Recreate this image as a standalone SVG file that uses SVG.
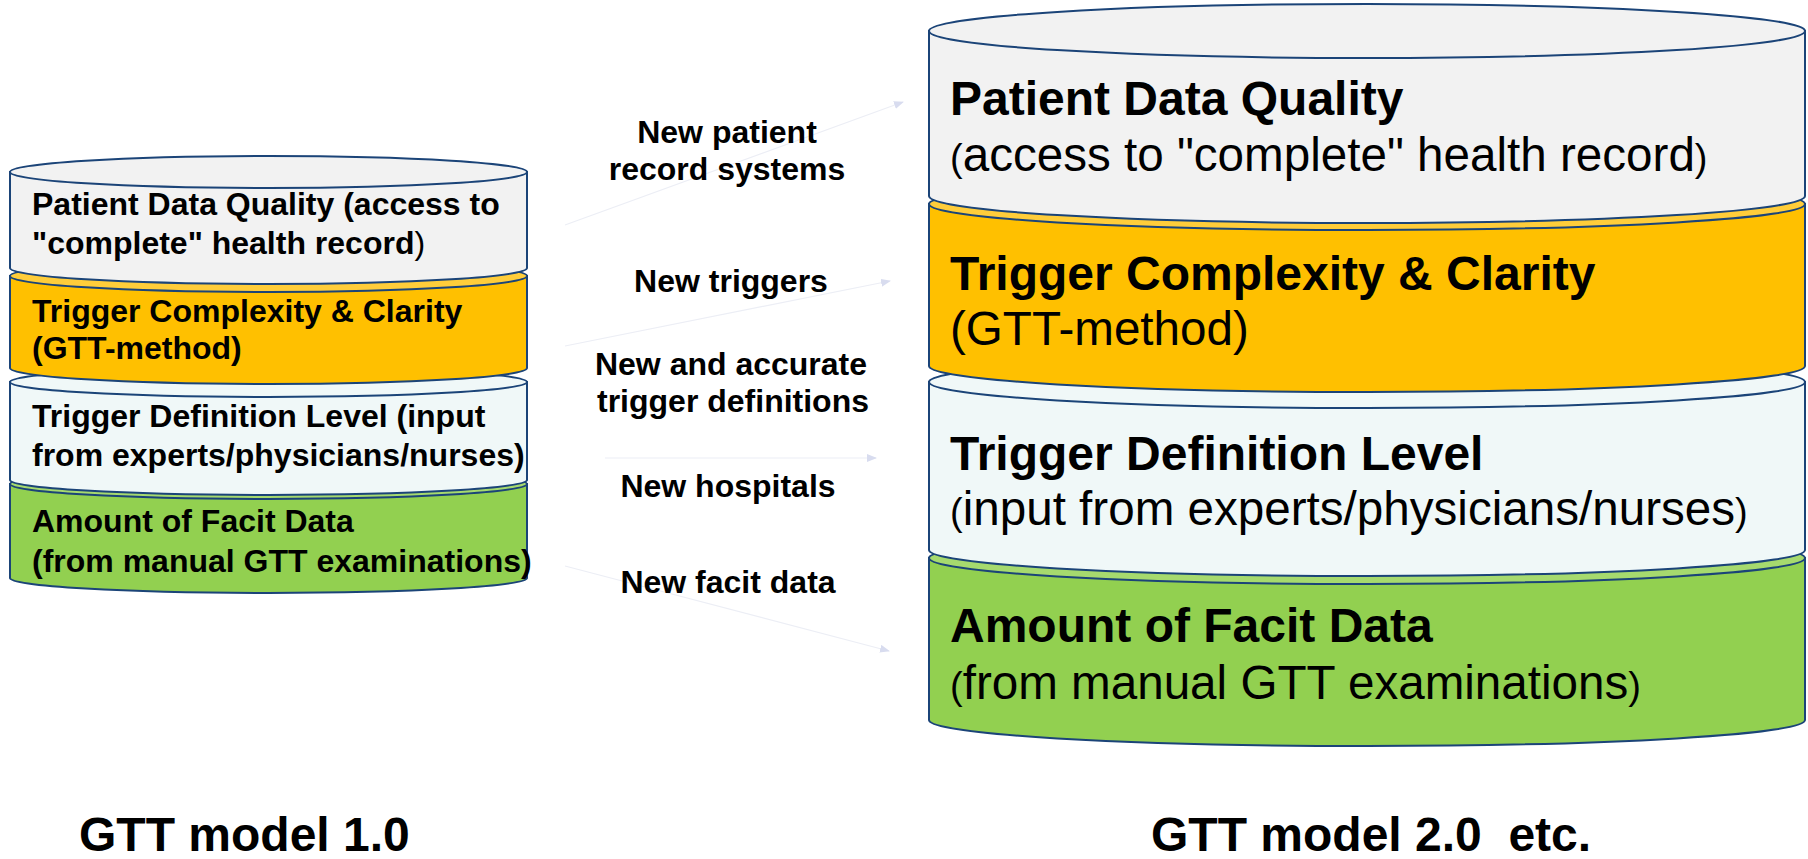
<svg xmlns="http://www.w3.org/2000/svg" width="1808" height="859" viewBox="0 0 1808 859">
<defs>
<style>
.bg{fill:#ffffff}
.cyl{stroke:#1b4478;stroke-width:2}
.w{fill:#f2f2f2}
.y{fill:#ffc000}
.yt{fill:#ffcd3a}
.c{fill:#f0f8f8}
.g{fill:#92d050}
.gt{fill:#a6da6e}
.ts{font-family:"Liberation Sans",Arial,sans-serif;font-size:32px;font-weight:bold;fill:#000}
.tb{font-family:"Liberation Sans",Arial,sans-serif;font-size:48px;font-weight:bold;fill:#000}
.tr{font-family:"Liberation Sans",Arial,sans-serif;font-size:47.6px;font-weight:normal;fill:#000}
.p{font-size:38px;font-weight:normal}
.ps{font-weight:normal}
.lbl{font-family:"Liberation Sans",Arial,sans-serif;font-size:32px;font-weight:bold;fill:#000;text-anchor:middle}
.title{font-family:"Liberation Sans",Arial,sans-serif;font-size:48px;font-weight:bold;fill:#000;white-space:pre}
.conn{stroke:#eceef5;stroke-width:1.2;fill:none}
</style>
<marker id="ah" markerWidth="10" markerHeight="8" refX="9" refY="4" orient="auto" markerUnits="userSpaceOnUse">
<path d="M0,0 L10,4 L0,8 Z" fill="#d8dcef"/>
</marker>
</defs>
<rect class="bg" x="0" y="0" width="1808" height="859"/>

<!-- Left stack (GTT model 1.0) -->
<g id="left-facit">
<path class="cyl g" d="M10,484 L10,578 A258.5,15 0 0 0 527,578 L527,484 Z"/>
<ellipse class="cyl gt" cx="268.5" cy="484" rx="258.5" ry="15"/>
<text class="ts" x="32" y="532">Amount of Facit Data</text>
<text class="ts" x="32" y="572">(from manual GTT examinations)</text>
</g>
<g id="left-definition">
<path class="cyl c" d="M10,382 L10,480 A258.5,15 0 0 0 527,480 L527,382 Z"/>
<ellipse class="cyl c" cx="268.5" cy="382" rx="258.5" ry="15"/>
<text class="ts" x="32" y="427">Trigger Definition Level (input</text>
<text class="ts" x="32" y="466">from experts/physicians/nurses)</text>
</g>
<g id="left-complexity">
<path class="cyl y" d="M10,276 L10,368 A258.5,16 0 0 0 527,368 L527,276 Z"/>
<ellipse class="cyl yt" cx="268.5" cy="276" rx="258.5" ry="16"/>
<text class="ts" x="32" y="322">Trigger Complexity &amp; Clarity</text>
<text class="ts" x="32" y="359">(GTT-method)</text>
</g>
<g id="left-quality">
<path class="cyl w" d="M10,172 L10,268 A258.5,16 0 0 0 527,268 L527,172 Z"/>
<ellipse class="cyl w" cx="268.5" cy="172" rx="258.5" ry="16"/>
<text class="ts" x="32" y="215">Patient Data Quality (access to</text>
<text class="ts" x="32" y="254">"complete" health record<tspan class="ps">)</tspan></text>
</g>

<!-- Right stack (GTT model 2.0) -->
<g id="right-facit">
<path class="cyl g" d="M929,558 L929,720 A438,26 0 0 0 1805,720 L1805,558 Z"/>
<ellipse class="cyl gt" cx="1367" cy="558" rx="438" ry="26"/>
<text class="tb" x="950" y="642">Amount of Facit Data</text>
<text class="tr" x="950" y="699"><tspan class="p">(</tspan>from manual GTT examinations<tspan class="p">)</tspan></text>
</g>
<g id="right-definition">
<path class="cyl c" d="M929,382 L929,550 A438,26 0 0 0 1805,550 L1805,382 Z"/>
<ellipse class="cyl c" cx="1367" cy="382" rx="438" ry="26"/>
<text class="tb" x="950" y="470">Trigger Definition Level</text>
<text class="tr" x="950" y="525"><tspan class="p">(</tspan>input from experts/physicians/nurses<tspan class="p">)</tspan></text>
</g>
<g id="right-complexity">
<path class="cyl y" d="M929,204 L929,366 A438,26 0 0 0 1805,366 L1805,204 Z"/>
<ellipse class="cyl yt" cx="1367" cy="204" rx="438" ry="26"/>
<text class="tb" x="950" y="290">Trigger Complexity &amp; Clarity</text>
<text class="tr" x="950" y="345">(GTT-method)</text>
</g>
<g id="right-quality">
<path class="cyl w" d="M929,31 L929,196 A438,27 0 0 0 1805,196 L1805,31 Z"/>
<ellipse class="cyl w" cx="1367" cy="31" rx="438" ry="27"/>
<text class="tb" x="950" y="115">Patient Data Quality</text>
<text class="tr" x="950" y="171"><tspan class="p">(</tspan>access to "complete" health record<tspan class="p">)</tspan></text>
</g>

<!-- Connectors -->
<g id="connectors">
<line class="conn" x1="565" y1="225" x2="903" y2="102" marker-end="url(#ah)"/>
<line class="conn" x1="565" y1="346" x2="890" y2="281" marker-end="url(#ah)"/>
<line class="conn" x1="605" y1="458" x2="876" y2="458" marker-end="url(#ah)"/>
<line class="conn" x1="565" y1="566" x2="889" y2="651" marker-end="url(#ah)"/>
</g>

<!-- Connector labels -->
<g id="labels">
<text class="lbl" x="727" y="143">New patient</text>
<text class="lbl" x="727" y="180">record systems</text>
<text class="lbl" x="731" y="292">New triggers</text>
<text class="lbl" x="731" y="375">New and accurate</text>
<text class="lbl" x="733" y="412">trigger definitions</text>
<text class="lbl" x="728" y="497">New hospitals</text>
<text class="lbl" x="728" y="593">New facit data</text>
</g>

<!-- Titles -->
<g id="titles">
<text class="title" x="79" y="851">GTT model 1.0</text>
<text class="title" x="1151" y="851">GTT model 2.0  etc.</text>
</g>
</svg>
